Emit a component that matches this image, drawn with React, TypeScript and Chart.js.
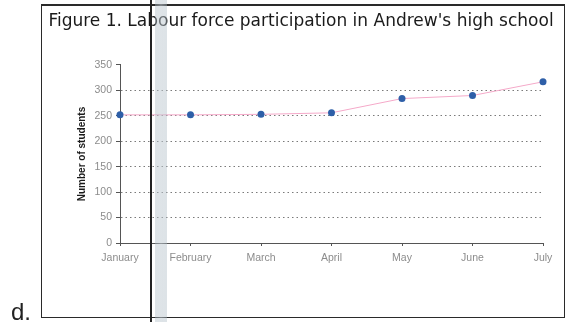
import React, { useEffect, useRef } from "react";
import { Chart, registerables } from "chart.js";

Chart.register(...registerables);

const months = ["January", "February", "March", "April", "May", "June", "July"];
const students = [252, 252, 253, 256, 284, 290, 317];
const yMin = 0;
const yMax = 350;
const yStep = 50;
const titleText = "Figure 1. Labour force participation in Andrew's high school";
const yAxisTitle = "Number of students";

export default function App() {
  const ref = useRef<HTMLCanvasElement | null>(null);

  useEffect(() => {
    if (!ref.current) return;
    const chart = new Chart(ref.current, {
      type: "line",
      data: {
        labels: months,
        datasets: [
          {
            data: students,
            yAxisID: "y",
            borderColor: "#f5a9c9",
            borderWidth: 1,
            backgroundColor: "#2e5fa8",
            pointBackgroundColor: "#2e5fa8",
            pointBorderWidth: 0,
            pointRadius: 3.5,
            tension: 0,
            fill: false,
          },
        ],
      },
      options: {
        animation: false,
        responsive: false,
        maintainAspectRatio: false,
        layout: { padding: { left: 7, right: 0, top: 0, bottom: 0 } },
        plugins: {
          legend: { display: false },
          tooltip: { enabled: false },
          title: {
            display: true,
            text: titleText,
            color: "#1a1a1a",
            font: { family: "DejaVu Sans", size: 17, weight: "normal" },
            padding: { top: 6.3, bottom: 33.3 },
          },
        },
        scales: {
          x: {
            offset: false,
            afterFit: (s: any) => {
              s.height = 74;
            },
            grid: {
              drawOnChartArea: false,
              drawTicks: true,
              tickLength: 3,
              tickColor: "#555",
              tickWidth: 1,
            },
            border: { display: true, color: "#555", width: 1 },
            ticks: {
              color: "#8c8c8c",
              padding: 6,
              maxRotation: 0,
              autoSkip: false,
              font: { family: "Liberation Sans", size: 10.5 },
            },
          },
          y: {
            min: yMin,
            max: yMax,
            afterFit: (s: any) => {
              s.width = 83;
            },
            grid: {
              color: (ctx: any) =>
                ctx.tick && (ctx.tick.value === yMax || ctx.tick.value === yMin)
                  ? "rgba(0,0,0,0)"
                  : "#7a7a7a",
              lineWidth: 1,
              drawTicks: true,
              tickLength: 4,
              tickColor: "#555",
              tickWidth: 1,
              tickBorderDash: [],
            },
            border: { display: true, color: "#555", width: 1, dash: [1.5, 3] },
            ticks: {
              stepSize: yStep,
              color: "#8c8c8c",
              padding: 4,
              font: { family: "Liberation Sans", size: 10.5 },
            },
            title: {
              display: true,
              text: yAxisTitle,
              color: "#1a1a1a",
              font: { family: "Liberation Sans", size: 10, weight: "bold" },
              padding: { top: 39, bottom: 0 },
            },
          },
          spacer: {
            type: "linear",
            position: "right",
            display: true,
            afterFit: (s: any) => {
              s.width = 22;
            },
            grid: { drawOnChartArea: false, drawTicks: false },
            border: { display: false },
            ticks: { display: false },
          },
        },
      },
    });
    return () => chart.destroy();
  }, []);

  return (
    <div
      style={{
        position: "fixed",
        left: 0,
        top: 0,
        width: 576,
        height: 322,
        background: "#fff",
        overflow: "hidden",
      }}
    >
      <div
        style={{
          position: "absolute",
          left: 41,
          top: 4,
          width: 524,
          height: 314,
          border: "1px solid #2a2a2a",
          borderTopWidth: 2,
          boxSizing: "border-box",
        }}
      />
      <canvas
        ref={ref}
        width={535}
        height={312}
        style={{ position: "absolute", left: 30, top: 5, width: 535, height: 312 }}
      />
      <div
        style={{
          position: "absolute",
          left: 155,
          top: 0,
          width: 12,
          height: 322,
          background:
            "linear-gradient(to right, rgba(170,185,195,0.4), rgba(195,205,212,0.55), rgba(170,185,195,0.4))",
        }}
      />
      <div
        style={{
          position: "absolute",
          left: 150,
          top: 0,
          width: 1.5,
          height: 322,
          background: "#222",
        }}
      />
      <div
        style={{
          position: "absolute",
          left: 11,
          top: 298,
          fontFamily: "Liberation Sans, Arial, sans-serif",
          fontSize: 24,
          color: "#222",
          lineHeight: "28px",
        }}
      >
        d.
      </div>
    </div>
  );
}
